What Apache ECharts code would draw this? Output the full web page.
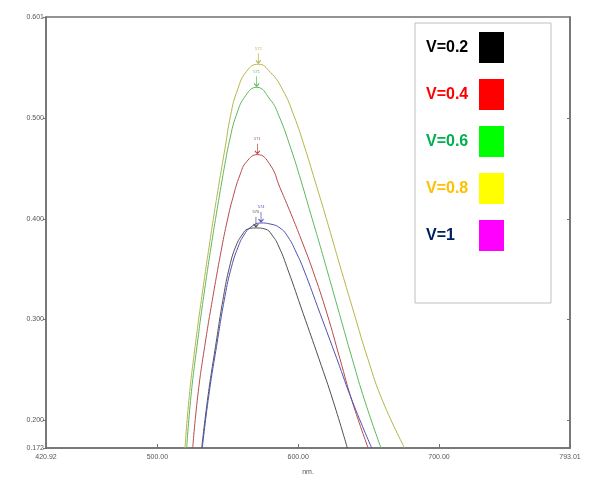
<!DOCTYPE html>
<html lang="en">
<head>
    <meta charset="UTF-8">
    <title>V curves</title>
    <style>
        html, body { margin: 0; padding: 0; background: #fff; }
        div#container { width: 589px; height: 481px; }
    </style>
</head>
<body>
    <div id="container"></div>
    <script src="https://cdn.jsdelivr.net/npm/echarts@6/dist/echarts.min.js"></script>
    <script>
        // tick labels
        var xTicks = [420.92, 500, 600, 700, 793.01];
        var yTicks = [0.172, 0.2, 0.3, 0.4, 0.5, 0.601];

        // [wavelength nm, absorbance]
        var v02 = [
            [531.5, 0.172], [536.0, 0.224], [541.3, 0.273], [547.0, 0.323], [551.2, 0.352],
            [555.5, 0.372], [560.1, 0.384], [564.4, 0.390], [570.0, 0.391], [576.4, 0.390],
            [581.4, 0.384], [586.4, 0.372], [592.8, 0.349], [603.5, 0.306], [614.7, 0.261],
            [625.0, 0.218], [634.9, 0.172]
        ];
        var v04 = [
            [525.1, 0.172], [528.7, 0.224], [533.6, 0.273], [539.5, 0.323], [545.8, 0.372],
            [549.6, 0.398], [553.6, 0.421], [558.7, 0.444], [563.4, 0.457], [571.0, 0.464],
            [580.0, 0.454], [587.1, 0.431], [594.9, 0.405], [602.3, 0.379], [610.3, 0.349],
            [620.4, 0.306], [629.6, 0.261], [638.4, 0.218], [649.7, 0.172]
        ];
        var v06 = [
            [520.8, 0.172], [523.9, 0.224], [528.1, 0.273], [532.9, 0.323], [538.1, 0.372],
            [541.9, 0.405], [545.9, 0.438], [547.9, 0.454], [551.1, 0.477], [556.0, 0.503],
            [562.8, 0.523], [570.5, 0.531], [580.0, 0.519], [586.2, 0.503], [594.8, 0.470],
            [602.0, 0.438], [608.9, 0.405], [614.8, 0.377], [620.5, 0.349], [629.2, 0.306],
            [638.3, 0.261], [647.5, 0.218], [658.8, 0.172]
        ];
        var v08 = [
            [519.6, 0.172], [522.7, 0.224], [526.8, 0.273], [531.6, 0.323], [536.7, 0.372],
            [540.3, 0.405], [544.1, 0.438], [548.0, 0.470], [552.0, 0.503], [556.3, 0.526],
            [563.4, 0.547], [571.7, 0.554], [580.2, 0.546], [588.8, 0.529], [596.9, 0.503],
            [604.9, 0.470], [611.9, 0.438], [619.0, 0.405], [624.8, 0.377], [630.6, 0.349],
            [639.7, 0.306], [649.4, 0.261], [660.2, 0.218], [675.6, 0.172]
        ];
        var v10 = [
            [531.9, 0.172], [536.5, 0.224], [542.0, 0.273], [548.0, 0.323], [552.6, 0.352],
            [557.3, 0.372], [561.5, 0.384], [566.5, 0.392], [573.6, 0.396], [580.0, 0.395],
            [587.1, 0.391], [592.8, 0.382], [598.5, 0.367], [604.1, 0.349], [615.5, 0.306],
            [627.4, 0.261], [638.6, 0.218], [652.2, 0.172]
        ];

        var names = ['V=0.2', 'V=0.4', 'V=0.6', 'V=0.8', 'V=1'];
        var lineColors = ['#505050', '#b84a4a', '#5cb85c', '#b5b54a', '#5050b8'];
        var swatchColors = ['#000000', '#ff0000', '#00ff00', '#ffff00', '#ff00ff'];
        var textColors = ['#000000', '#ff0000', '#00b050', '#ffc000', '#002060'];
        var seriesData = [v02, v04, v06, v08, v10];

        var axisColor = '#707070';

        function makeSeries(i) {
            return {
                name: names[i],
                type: 'line',
                data: seriesData[i],
                smooth: 0.5,
                showSymbol: false,
                lineStyle: { color: lineColors[i], width: 1 },
                itemStyle: { color: lineColors[i] },
                markPoint: {
                    data: [{ type: 'max', valueDim: 'y' }],
                    symbol: 'path://M5,0 L5,14 M2,10 L5,14 L8,10',
                    symbolSize: [5, 10],
                    symbolOffset: [0, -6],
                    itemStyle: { color: 'transparent', borderColor: lineColors[i], borderWidth: 1 },
                    label: {
                        show: true,
                        position: 'top',
                        distance: 2,
                        fontSize: 4,
                        color: lineColors[i],
                        formatter: function (p) { return Math.round(p.data.coord ? p.data.coord[0] : p.value); }
                    }
                }
            };
        }

        var legendData = names.map(function (n, i) {
            return {
                name: n,
                itemStyle: { color: swatchColors[i] },
                textStyle: { color: textColors[i] }
            };
        });

        var chart = echarts.init(document.getElementById('container'));
        var options = {
            animation: false,
            grid: {
                left: 46, right: 19, top: 17, bottom: 28,
                show: true, borderColor: axisColor, borderWidth: 1.5, backgroundColor: 'transparent'
            },
            legend: {
                orient: 'vertical',
                left: 415, top: 23,
                align: 'right',
                icon: 'rect',
                itemWidth: 25, itemHeight: 31, itemGap: 16,
                padding: [9, 47, 52, 11],
                backgroundColor: '#fff',
                borderColor: '#c0c0c0', borderWidth: 1,
                selectedMode: false,
                formatter: '{t|{name}}',
                textStyle: {
                    fontFamily: 'Liberation Sans, Arial, sans-serif',
                    fontWeight: 'bold', fontSize: 16,
                    rich: { t: { width: 48, align: 'left', fontSize: 16, fontWeight: 'bold' } }
                },
                data: legendData
            },
            xAxis: {
                type: 'value',
                min: xTicks[0], max: xTicks[xTicks.length - 1],
                name: 'nm.', nameLocation: 'middle', nameGap: 21,
                nameTextStyle: { fontSize: 7, color: '#555' },
                axisLine: { show: true, lineStyle: { color: axisColor, width: 1.5 } },
                axisTick: { show: true, inside: true, length: 4, customValues: xTicks, lineStyle: { color: axisColor } },
                axisLabel: {
                    customValues: xTicks, fontSize: 7, color: '#555', margin: 6,
                    formatter: function (v) { return v.toFixed(2); }
                },
                splitLine: { show: false }
            },
            yAxis: [{
                type: 'value',
                min: yTicks[0], max: yTicks[yTicks.length - 1],
                axisLine: { show: true, lineStyle: { color: axisColor, width: 1.5 } },
                axisTick: { show: true, length: 3, customValues: yTicks, lineStyle: { color: axisColor } },
                axisLabel: {
                    customValues: yTicks, fontSize: 7, color: '#555', margin: 2,
                    formatter: function (v) { return v.toFixed(3); }
                },
                splitLine: { show: false }
            }, {
                type: 'value', position: 'right',
                min: yTicks[0], max: yTicks[yTicks.length - 1],
                axisLine: { show: true, lineStyle: { color: axisColor, width: 1.5 } },
                axisTick: { show: true, inside: true, length: 3, customValues: yTicks.slice(1, -1), lineStyle: { color: axisColor } },
                axisLabel: { show: false },
                splitLine: { show: false }
            }],
            series: [0, 1, 2, 3, 4].map(makeSeries)
        };
        chart.setOption(options);
    </script>
</body>
</html>
